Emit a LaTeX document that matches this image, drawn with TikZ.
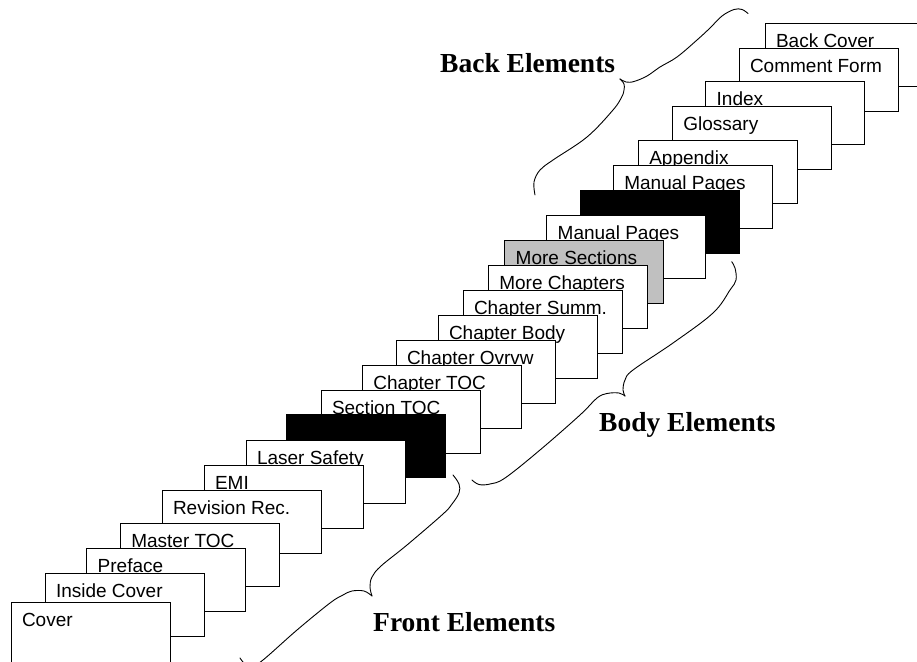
\documentclass[tikz,border=0pt]{standalone}
\usepackage{fontspec}
\setmainfont{Liberation Serif}
\newfontfamily\pagesans{Liberation Sans}
\definecolor{greyfill}{RGB}{192,192,192}
\tikzset{
  sheet/.style={draw, line width=1pt, fill=white, minimum width=159pt,
    minimum height=63pt, inner sep=0pt, outer sep=0pt, anchor=north west},
  darksheet/.style={sheet, fill=black},
  greysheet/.style={sheet, fill=greyfill},
  sheettext/.style={font=\pagesans\fontsize{19}{22}\selectfont,
    anchor=base west, inner sep=0pt, outer sep=0pt},
  grouplabel/.style={font=\bfseries\fontsize{27.5}{30}\selectfont,
    anchor=base west, inner sep=0pt},
  bracestroke/.style={line width=0.9pt, line cap=round, line join=round}
}
% one sheet of the stack with its title: name, style, left, top, title
\newcommand{\putsheet}[5]{%
  \node[#2] (#1) at (#3,#4) {};
  \node[sheettext] (#1-t) at ([shift={(11,24)}]#1.north west) {#5};}
% a sheet without a title
\newcommand{\putblank}[4]{\node[#2] (#1) at (#3,#4) {};}
\begin{document}
\begin{tikzpicture}[x=1pt, y=-1pt]
\useasboundingbox (0,0) rectangle (917,661);
\clip (0,0) rectangle (917,661);

% the stack, drawn from the back sheet to the front sheet
\putsheet{s01}{sheet}{765}{23.3}{Back Cover}
\putsheet{s02}{sheet}{739}{48.3}{Comment Form}
\putsheet{s03}{sheet}{705.7}{81.7}{Index}
\putsheet{s04}{sheet}{672.3}{106.7}{Glossary}
\putsheet{s05}{sheet}{638.3}{140}{Appendix}
\putsheet{s06}{sheet}{613.3}{165}{Manual Pages}
\putblank{s07}{darksheet}{580}{190}
\putsheet{s08}{sheet}{546.7}{215}{Manual Pages}
\putsheet{s09}{greysheet}{504.7}{240}{More Sections}
\putsheet{s10}{sheet}{488.3}{265}{More Chapters}
\putsheet{s11}{sheet}{463}{290}{Chapter Summ.}
\putsheet{s12}{sheet}{438}{315}{Chapter Body}
\putsheet{s13}{sheet}{396}{340}{Chapter Ovrvw}
\putsheet{s14}{sheet}{362.3}{365}{Chapter TOC}
\putsheet{s15}{sheet}{321}{390}{Section TOC}
\putblank{s16}{darksheet}{286.7}{414.7}
\putsheet{s17}{sheet}{246}{440.3}{Laser Safety}
\putsheet{s18}{sheet}{204}{465.3}{EMI}
\putsheet{s19}{sheet}{162}{490}{Revision Rec.}
\putsheet{s20}{sheet}{120.3}{523.3}{Master TOC}
\putsheet{s21}{sheet}{86.7}{548.3}{Preface}
\putsheet{s22}{sheet}{45}{573.7}{Inside Cover}
\putsheet{s23}{sheet}{11}{602.7}{Cover}

% group labels
\node[grouplabel] (back)  at (440,72.5) {Back Elements};
\node[grouplabel] (body)  at (599,431)  {Body Elements};
\node[grouplabel] (front) at (373,631)  {Front Elements};

% brace of the back group
\draw[bracestroke] plot[smooth, tension=0.6] coordinates {
  (748,13.5) (742,9.5) (734,9.5) (722,16) (710,28) (697,40) (677,57)
  (660,67) (647,76) (634,81.5) (626,82) (620,79)};
\draw[bracestroke] plot[smooth, tension=0.6] coordinates {
  (620,79) (624,84) (624,90) (621.7,97) (613,110) (587,137) (553,160)
  (540,170) (534,182) (535,195)};

% brace of the body group
\draw[bracestroke] plot[smooth, tension=0.6] coordinates {
  (731.7,261.7) (735,268) (736,280) (730,290) (713,313) (673,343)
  (633,370) (625,380) (623,390) (625,396)};
\draw[bracestroke] plot[smooth, tension=0.6] coordinates {
  (625,396) (619,393) (607,393.5) (597,398) (580,415) (540,450)
  (505,478) (490,484) (479,484.5) (472,480)};

% brace of the front group
\draw[bracestroke] plot[smooth, tension=0.6] coordinates {
  (453,475) (459,484) (459,493) (452,504) (443,514) (407,545)
  (381,566) (372,577) (370,587) (372,596)};
\draw[bracestroke] plot[smooth, tension=0.6] coordinates {
  (372,596) (364,591) (352,591) (343,595) (330,603) (297,630)
  (263,660) (252,666) (245,664) (240,658)};
\end{tikzpicture}
\end{document}
